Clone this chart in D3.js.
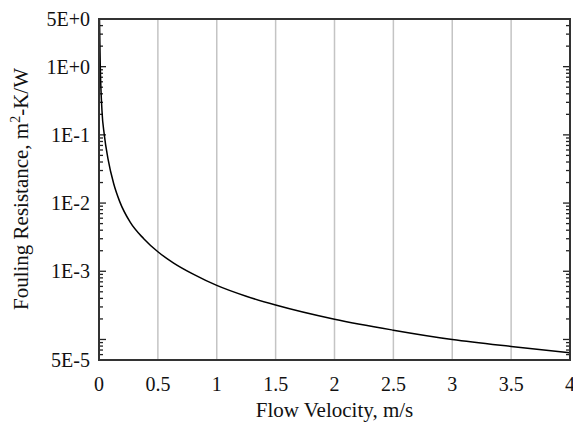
<!DOCTYPE html>
<html>
<head>
<meta charset="utf-8">
<script src="https://cdn.jsdelivr.net/npm/d3@7"></script>
<style>
  body { margin: 0; background: #fff; }
</style>
</head>
<body>
<div id="chart"></div>
<script>
// values (smoothed by eye)
var velocity = [0.004, 0.011, 0.025, 0.045, 0.076, 0.125, 0.176, 0.266, 0.38,
  0.5, 0.634, 0.804, 1, 1.25, 1.5, 2, 2.5, 3, 3.5, 4];
var resistance = [5, 1, 0.23, 0.1, 0.045, 0.0192, 0.0105, 0.0052, 0.003,
  0.00193, 0.00132, 0.0009, 0.00062, 0.00043, 0.00032, 0.000198, 0.000137,
  0.0001, 0.000079, 0.000064];

var xTicks = [0, 0.5, 1, 1.5, 2, 2.5, 3, 3.5, 4];
var yLabelValues = [5, 1, 0.1, 0.01, 0.001, 0.00005];
var yLabelText = ['5E+0', '1E+0', '1E-1', '1E-2', '1E-3', '5E-5'];

var W = 573, H = 423;
var margin = { top: 19, right: 3, bottom: 63, left: 99 };
var w = W - margin.left - margin.right;
var h = H - margin.top - margin.bottom;
var serif = '"Liberation Serif", "Times New Roman", Times, "DejaVu Serif", serif';

var svg = d3.select('#chart').append('svg')
  .attr('width', W)
  .attr('height', H)
  .attr('font-family', serif);

var g = svg.append('g')
  .attr('transform', 'translate(' + margin.left + ',' + margin.top + ')');

var x = d3.scaleLinear().domain([0, 4]).range([0, w]);
var y = d3.scaleLog().domain([0.00005, 5]).range([h, 0]);

// vertical grid lines
g.selectAll('line.grid')
  .data(xTicks.filter(function(d) { return d > 0 && d < 4; }))
  .enter().append('line')
  .attr('class', 'grid')
  .attr('x1', x).attr('x2', x)
  .attr('y1', 0).attr('y2', h)
  .attr('stroke', '#c4c4c4')
  .attr('stroke-width', 1.5);

// log ticks, inward on both sides
var tickVals = [];
for (var e = -5; e <= 0; e++) {
  for (var m = 1; m <= 9; m++) {
    var v = m * Math.pow(10, e);
    if (v >= 0.00005 * 0.999 && v <= 5 * 1.001) tickVals.push({ v: v, major: m === 1 });
  }
}

[0, w].forEach(function(side) {
  var dir = side === 0 ? 1 : -1;
  g.selectAll(null)
    .data(tickVals)
    .enter().append('line')
    .attr('x1', side)
    .attr('x2', function(d) { return side + dir * (d.major ? 7 : 4); })
    .attr('y1', function(d) { return y(d.v); })
    .attr('y2', function(d) { return y(d.v); })
    .attr('stroke', '#222')
    .attr('stroke-width', 1.3);
});

// curve
g.append('clipPath').attr('id', 'clip')
  .append('rect').attr('width', w).attr('height', h);

var line = d3.line()
  .x(function(d, i) { return x(velocity[i]); })
  .y(function(d) { return y(d); })
  .curve(d3.curveMonotoneX);

g.append('path')
  .datum(resistance)
  .attr('clip-path', 'url(#clip)')
  .attr('d', line)
  .attr('fill', 'none')
  .attr('stroke', '#000')
  .attr('stroke-width', 1.5);

// frame
g.append('rect')
  .attr('width', w).attr('height', h)
  .attr('fill', 'none')
  .attr('stroke', '#333')
  .attr('stroke-width', 2);

// tick labels
g.selectAll('text.ylab')
  .data(yLabelValues)
  .enter().append('text')
  .attr('class', 'ylab')
  .attr('x', -9)
  .attr('y', function(d) { return y(d); })
  .attr('dy', '0.35em')
  .attr('text-anchor', 'end')
  .attr('fill', '#111')
  .attr('font-size', 20)
  .text(function(d, i) { return yLabelText[i]; });

g.selectAll('text.xlab')
  .data(xTicks)
  .enter().append('text')
  .attr('class', 'xlab')
  .attr('x', x)
  .attr('y', h + 31)
  .attr('text-anchor', 'middle')
  .attr('fill', '#111')
  .attr('font-size', 20)
  .text(function(d) { return d; });

// axis titles
g.append('text')
  .attr('x', w / 2)
  .attr('y', h + 57)
  .attr('text-anchor', 'middle')
  .attr('fill', '#111')
  .attr('font-size', 21)
  .text('Flow Velocity, m/s');

var yt = svg.append('text')
  .attr('transform', 'translate(28,' + 189 + ') rotate(-90)')
  .attr('text-anchor', 'middle')
  .attr('fill', '#111')
  .attr('font-size', 21);
yt.append('tspan').text('Fouling Resistance, m');
yt.append('tspan').attr('dy', -8).attr('font-size', 14).text('2');
yt.append('tspan').attr('dy', 8).text('-K/W');
</script>
</body>
</html>
